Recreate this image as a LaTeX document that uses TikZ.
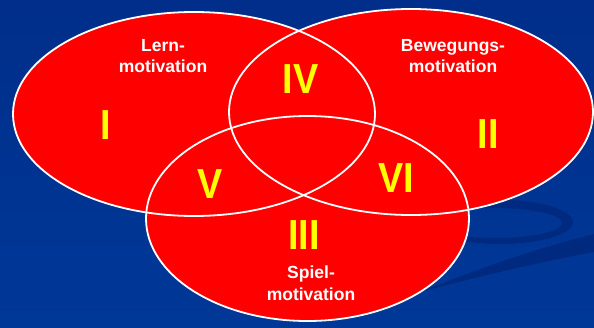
\documentclass[tikz,border=0pt]{standalone}
\usepackage{fontspec}
\setmainfont{Liberation Sans}
\newfontfamily\numfont[FakeStretch=0.9]{Liberation Sans}
\begin{document}
\begin{tikzpicture}[x=1pt,y=-1pt,
  bubble/.style={fill=vred},
  rim/.style={draw=white,line width=1.8pt},
  numeral/.style={text=vyellow,font=\numfont\bfseries\fontsize{42}{42}\selectfont,anchor=base,inner sep=0pt},
  caption/.style={text=white,font=\bfseries\fontsize{17.5}{21}\selectfont,anchor=base,inner sep=0pt,align=center}]
\definecolor{bgtop}{RGB}{0,46,138}
\definecolor{bgbot}{RGB}{0,56,152}
\definecolor{swoosh}{RGB}{0,42,128}
\definecolor{vred}{RGB}{255,0,0}
\definecolor{vyellow}{RGB}{255,255,0}
% background
\shade[top color=bgtop,bottom color=bgbot] (0,0) rectangle (594,327);
\useasboundingbox (0,0) rectangle (594,327);
% swoosh decoration
\fill[swoosh,even odd rule] (500,222) ellipse [x radius=73pt,y radius=22pt]
                            (495,223) ellipse [x radius=67pt,y radius=15pt];
\fill[swoosh] (594,234) .. controls (530,250) and (470,272) .. (420,292)
              .. controls (480,276) and (540,262) .. (594,252) -- cycle;
% ellipses
\fill[bubble] (194,114) ellipse [x radius=181pt,y radius=102pt];
\fill[bubble] (411,112) ellipse [x radius=182pt,y radius=103pt];
\fill[bubble] (307.5,218.5) ellipse [x radius=161.5pt,y radius=102.5pt];
\draw[rim] (194,114) ellipse [x radius=181pt,y radius=102pt];
\draw[rim] (411,112) ellipse [x radius=182pt,y radius=103pt];
\draw[rim] (307.5,218.5) ellipse [x radius=161.5pt,y radius=102.5pt];
% numerals
\node[numeral] (n1) at (106,139) {I};
\node[numeral] (n2) at (488,148) {II};
\node[numeral] (n3) at (304,249) {III};
\node[numeral] (n4) at (300.5,93) {IV};
\node[numeral] (n5) at (210.5,198) {V};
\node[numeral] (n6) at (396,192) {VI};
% captions
\node[caption] (l1) at (163,51) {Lern-};
\node[caption] (l2) at (163,72) {motivation};
\node[caption] (b1) at (453,51) {Bewegungs-};
\node[caption] (b2) at (453,72) {motivation};
\node[caption] (s1) at (311,278) {Spiel-};
\node[caption] (s2) at (311,300) {motivation};
\end{tikzpicture}
\end{document}
